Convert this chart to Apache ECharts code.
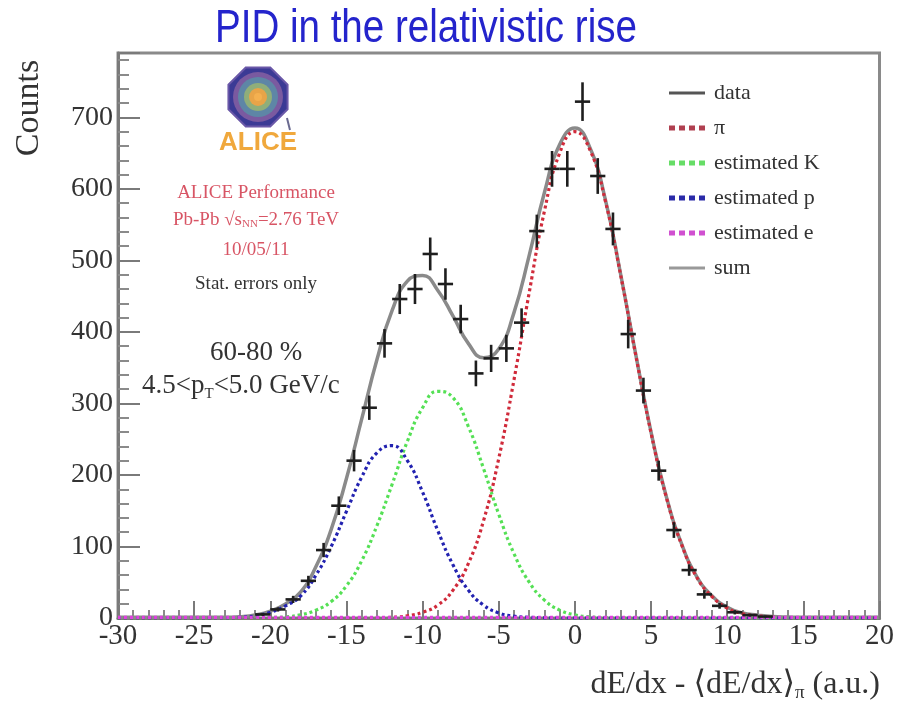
<!DOCTYPE html>
<html>
<head>
<meta charset="utf-8">
<script src="https://cdn.jsdelivr.net/npm/echarts@6/dist/echarts.min.js"></script>
<style>
  html, body { margin: 0; padding: 0; background: #fff; }
  #chart { width: 897px; height: 702px; }
</style>
</head>
<body>
<div id="chart"></div>
<script>
// Measured dE/dx distribution: bin centres, counts and statistical errors
const binCenters = [-20.5, -19.5, -18.5, -17.5, -16.5, -15.5, -14.5, -13.5, -12.5, -11.5,
  -10.5, -9.5, -8.5, -7.5, -6.5, -5.5, -4.5, -3.5, -2.5, -1.5, -0.5, 0.5, 1.5, 2.5, 3.5,
  4.5, 5.5, 6.5, 7.5, 8.5, 9.5, 10.5, 11.5, 12.5];
const counts = [5, 12, 26, 52, 95, 157, 220, 294, 384, 446,
  460, 509, 467, 418, 342, 363, 377, 413, 541, 628, 628, 722, 618, 544, 397,
  318, 206, 123, 67, 33, 17, 8, 4, 2];
const countErrors = [2, 3, 5, 7, 10, 13, 15, 17, 20, 21,
  21, 23, 22, 20, 18, 19, 19, 20, 23, 25, 25, 27, 25, 23, 20,
  18, 14, 11, 8, 6, 4, 3, 2, 1.4];

// Fit components sampled on a 1-unit grid from -30 to 20
const fitX = [-30, -29, -28, -27, -26, -25, -24, -23, -22, -21, -20, -19, -18, -17, -16,
  -15, -14, -13, -12, -11, -10, -9, -8, -7, -6, -5, -4, -3, -2, -1, 0,
  1, 2, 3, 4, 5, 6, 7, 8, 9, 10, 11, 12, 13, 14, 15, 16, 17, 18, 19, 20];
const piFit = [0, 0, 0, 0, 0, 0, 0, 0, 0, 0, 0, 0, 0, 0, 0,
  0, 0.1, 0.4, 1, 3, 8, 18, 39, 76, 136, 223, 333, 455, 569, 650, 680,
  654, 583, 480, 367, 259, 169, 103, 57, 30, 14, 6, 3, 1, 0.4, 0, 0, 0, 0, 0, 0];
const kaonFit = [0, 0, 0, 0, 0, 0, 0, 0, 0, 0, 0.6, 1.7, 4.5, 11, 23,
  45, 80, 129, 187, 247, 294, 317, 308, 268, 209, 145, 90, 50, 25, 11, 4.4,
  1.5, 0.5, 0.1, 0, 0, 0, 0, 0, 0, 0, 0, 0, 0, 0, 0, 0, 0, 0, 0, 0];
const protonFit = [0, 0, 0, 0, 0, 0, 0, 0, 0.8, 3, 8, 17, 31, 60, 100,
  149, 197, 231, 241, 220, 176, 122, 74, 39, 18, 7, 2.6, 1, 0.3, 0, 0,
  0, 0, 0, 0, 0, 0, 0, 0, 0, 0, 0, 0, 0, 0, 0, 0, 0, 0, 0, 0];
const electronFit = [1, 1, 1, 1, 1, 1, 1, 1, 1, 1, 1, 1, 1, 1, 1,
  1, 1, 1, 1, 1, 1, 1, 1, 1, 1, 1, 1, 1, 1, 1, 1,
  1, 1, 1, 1, 1, 1, 1, 1, 1, 1, 1, 1, 1, 1, 1, 1, 1, 1, 1, 1];
const sumFit = [1, 1, 1, 1, 1, 1, 1, 1, 1.8, 4.2, 9.6, 19.7, 36.5, 72, 124,
  195, 278, 361, 430, 471, 479, 458, 422, 384, 364, 376, 427, 507, 595, 662, 685,
  657, 585, 481, 368, 260, 170, 104, 58, 31, 15, 7, 4, 2, 1.4, 1, 1, 1, 1, 1, 1];

// Axis tick values
const xTicks = { min: -30, max: 20, step: 5 };
const yTicks = { min: 0, max: 790, step: 100 };

const SERIF = '"Liberation Serif", "DejaVu Serif", serif';
const chart = echarts.init(document.getElementById('chart'), null, { renderer: 'canvas' });

const toPairs = (ys) => fitX.map((x, i) => [x, ys[i]]);
const dotted = (name, ys, color, z) => ({
  name, type: 'line', data: toPairs(ys), showSymbol: false, smooth: 0.5, z,
  lineStyle: { color, width: 3.2, type: [3, 3] },
  itemStyle: { color },
  emphasis: { disabled: true }
});

const dotIcon = 'path://M0,0h6v5h-6zM10,0h6v5h-6zM20,0h6v5h-6zM30,0h6v5h-6z';
const lineIcon = 'path://M0,1h36v3h-36z';

// ALICE logo: octagon with concentric rings
const logoCx = 258, logoCy = 97, logoR = 32;
const octPoints = [];
for (let k = 0; k < 8; k++) {
  const a = Math.PI / 8 + k * Math.PI / 4;
  octPoints.push([logoCx + logoR * Math.cos(a), logoCy + logoR * Math.sin(a)]);
}
const ring = (r, fill) => ({ type: 'circle', shape: { cx: logoCx, cy: logoCy, r }, style: { fill } });

chart.setOption({
  animation: false,
  backgroundColor: '#fff',
  grid: { left: 118, right: 17, top: 53, bottom: 84, show: true, borderColor: '#8a8a8a', borderWidth: 3, backgroundColor: 'transparent' },
  xAxis: {
    type: 'value', min: xTicks.min, max: xTicks.max, interval: xTicks.step,
    axisLine: { onZero: false, lineStyle: { color: '#7a7a7a', width: 3 } },
    axisTick: { inside: true, length: 17, lineStyle: { color: '#7a7a7a', width: 2 } },
    minorTick: { show: true, splitNumber: 5, length: 8, lineStyle: { color: '#8a8a8a', width: 2 } },
    splitLine: { show: false },
    axisLabel: { fontFamily: SERIF, fontSize: 29, color: '#333', margin: 4 }
  },
  yAxis: {
    type: 'value', min: yTicks.min, max: yTicks.max, interval: yTicks.step,
    axisLine: { show: true, onZero: false, lineStyle: { color: '#7a7a7a', width: 3 } },
    axisTick: { show: true, inside: true, length: 22, lineStyle: { color: '#7a7a7a', width: 2 } },
    minorTick: { show: true, splitNumber: 5, length: 11, lineStyle: { color: '#8a8a8a', width: 2 } },
    splitLine: { show: false },
    axisLabel: { fontFamily: SERIF, fontSize: 28, color: '#333', margin: 5, showMaxLabel: false }
  },
  legend: {
    orient: 'vertical', left: 664, top: 77, itemWidth: 36, itemHeight: 5, itemGap: 13,
    selectedMode: false,
    textStyle: { fontFamily: SERIF, fontSize: 22, lineHeight: 22, color: '#333', padding: [0, 0, 0, 4] },
    data: [
      { name: 'data', icon: lineIcon, itemStyle: { color: '#555' } },
      { name: 'π', icon: dotIcon, itemStyle: { color: '#b04050' } },
      { name: 'estimated K', icon: dotIcon, itemStyle: { color: '#66dd66' } },
      { name: 'estimated p', icon: dotIcon, itemStyle: { color: '#2a2aa8' } },
      { name: 'estimated e', icon: dotIcon, itemStyle: { color: '#d050d0' } },
      { name: 'sum', icon: lineIcon, itemStyle: { color: '#999' } }
    ]
  },
  series: [
    {
      name: 'sum', type: 'line', data: toPairs(sumFit), showSymbol: false, smooth: 0.5,
      z: 2, lineStyle: { color: '#8a8a8a', width: 3.5 }, itemStyle: { color: '#888' },
      emphasis: { disabled: true }
    },
    dotted('π', piFit, '#d02a3a', 3),
    dotted('estimated K', kaonFit, '#55e055', 3),
    dotted('estimated p', protonFit, '#2222b0', 3),
    dotted('estimated e', electronFit, '#e040e0', 4),
    {
      name: 'data', type: 'custom', z: 5,
      itemStyle: { color: '#222' },
      data: binCenters.map((x, i) => [x, counts[i], countErrors[i]]),
      renderItem: (params, api) => {
        const x = api.value(0), y = api.value(1), e = api.value(2);
        const l = api.coord([x - 0.5, y]), r = api.coord([x + 0.5, y]);
        const t = api.coord([x, y + e]), b = api.coord([x, y - e]);
        const style = { stroke: '#1e1e1e', lineWidth: 2.6 };
        return {
          type: 'group', children: [
            { type: 'line', shape: { x1: l[0], y1: l[1], x2: r[0], y2: r[1] }, style },
            { type: 'line', shape: { x1: t[0], y1: t[1], x2: b[0], y2: b[1] }, style }
          ]
        };
      }
    }
  ],
  graphic: [
    { type: 'text', x: 215, y: 29, scaleX: 0.82, style: { text: 'PID in the relativistic rise', font: '47px "Liberation Sans", Arial, sans-serif', fill: '#2424cc', verticalAlign: 'middle' } },
    { type: 'text', x: 29, y: 108, rotation: Math.PI / 2, style: { text: 'Counts', font: '34px ' + SERIF, fill: '#333', align: 'center', verticalAlign: 'middle' } },
    {
      type: 'text', x: 880, y: 685,
      style: {
        text: '{a|dE/dx - ⟨dE/dx⟩}{s|π}{a| (a.u.)}', align: 'right', verticalAlign: 'middle',
        rich: {
          a: { fontFamily: SERIF, fontSize: 32, fill: '#333' },
          s: { fontFamily: SERIF, fontSize: 19, fill: '#333', padding: [16, 0, 0, 0] }
        }
      }
    },
    // logo
    { type: 'polygon', shape: { points: octPoints }, style: { fill: '#3b3a95', stroke: '#6a58a8', lineWidth: 2 } },
    ring(25, '#7a5aa0'),
    ring(20, '#5e86a6'),
    ring(14, '#8fae7a'),
    ring(9, '#e8a448'),
    ring(4, '#f4b050'),
    { type: 'line', shape: { x1: 287, y1: 118, x2: 290, y2: 130 }, style: { stroke: '#6a6a90', lineWidth: 2 } },
    { type: 'text', x: logoCx, y: 143, style: { text: 'ALICE', font: 'bold 26px "Liberation Sans", Arial, sans-serif', fill: '#f0a83c', align: 'center', verticalAlign: 'middle' } },
    { type: 'text', x: 256, y: 193, style: { text: 'ALICE Performance', font: '19px ' + SERIF, fill: '#d85565', align: 'center', verticalAlign: 'middle' } },
    {
      type: 'text', x: 256, y: 220,
      style: {
        text: '{a|Pb-Pb √s}{s|NN}{a|=2.76 TeV}', align: 'center', verticalAlign: 'middle',
        rich: {
          a: { fontFamily: SERIF, fontSize: 19, fill: '#d85565' },
          s: { fontFamily: SERIF, fontSize: 11, fill: '#d85565', padding: [8, 0, 0, 0] }
        }
      }
    },
    { type: 'text', x: 256, y: 250, style: { text: '10/05/11', font: '19px ' + SERIF, fill: '#d85565', align: 'center', verticalAlign: 'middle' } },
    { type: 'text', x: 256, y: 284, style: { text: 'Stat. errors only', font: '19px ' + SERIF, fill: '#333', align: 'center', verticalAlign: 'middle' } },
    { type: 'text', x: 256, y: 353, style: { text: '60-80 %', font: '27px ' + SERIF, fill: '#333', align: 'center', verticalAlign: 'middle' } },
    {
      type: 'text', x: 142, y: 386,
      style: {
        text: '{a|4.5<p}{s|T}{a|<5.0 GeV/c}', align: 'left', verticalAlign: 'middle',
        rich: {
          a: { fontFamily: SERIF, fontSize: 27, fill: '#333' },
          s: { fontFamily: SERIF, fontSize: 15, fill: '#333', padding: [16, 0, 0, 0] }
        }
      }
    }
  ]
});
</script>
</body>
</html>
